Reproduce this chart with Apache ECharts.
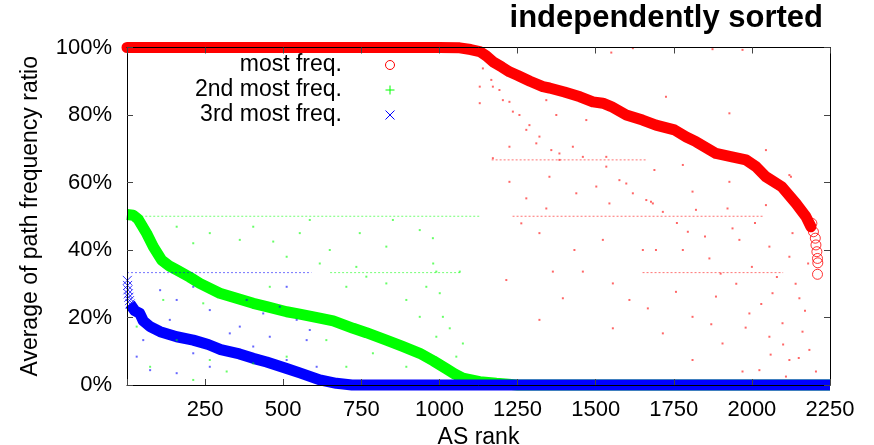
<!DOCTYPE html>
<html>
<head>
<meta charset="utf-8">
<script src="https://cdn.jsdelivr.net/npm/echarts@6/dist/echarts.min.js"></script>
<style>
  html, body { margin: 0; padding: 0; background: #fff; }
  #chart { width: 874px; height: 445px; }
</style>
</head>
<body>
<div id="chart"></div>
<script>
// AS rank (x) vs. average path frequency ratio in percent (y)

// Sorted curves
const redSorted = [[0,100],[1000,100],[1065,99.9],[1100,99.4],[1129,98.8],[1150,97.5],[1171,95.8],[1200,94.2],[1224,92.8],[1251,91.7],[1290,90.0],[1331,88.4],[1352,88.0],[1400,86.8],[1450,85.4],[1491,83.9],[1523,83.5],[1550,82.5],[1598,80.0],[1650,78.5],[1693,77.0],[1752,75.6],[1790,73.5],[1821,72.1],[1885,68.6],[1940,67.5],[1981,66.7],[2013,64.7],[2045,61.7],[2095,58.8],[2141,53.8],[2173,49.9],[2189,46.9]];
const redTail = [[2192,47.9],[2197,45.4],[2203,43.5],[2205,41.5],[2208,39.5],[2210,37.5],[2211,36.2],[2210,32.8]];

const greenSorted = [[0,50.5],[20,50.3],[35,49.2],[47,47.4],[63,44.9],[84,41.0],[111,37.0],[135,35.3],[159,34.1],[200,32.0],[233,30.1],[297,27.2],[340,26.0],[404,24.2],[447,23.2],[511,21.7],[553,21.0],[617,19.8],[660,19.0],[724,16.8],[766,15.5],[830,13.3],[880,11.5],[937,9.4],[980,7.2],[1022,4.8],[1050,3.2],[1075,2.0],[1129,1.0],[1182,0.5],[1250,0],[2250,0]];

const blueSorted = [[10,24.0],[25,22.0],[41,21.2],[52,19.0],[74,17.3],[106,15.8],[159,14.3],[212,13.3],[260,12.0],[300,10.5],[360,9.2],[404,7.9],[447,6.8],[511,4.9],[553,3.6],[617,1.5],[670,0.5],[720,0],[2250,0]];
const blueHead = [[1,31.0],[2,29.5],[3,28.2],[4,27.0],[6,26.0],[8,25.0],[10,24.0]];

// Unsorted per-AS values
const redScatter = [[1139,93.8],[1166,90.4],[1192,87.4],[1224,83.9],[1256,80.0],[1288,77.0],[1320,73.6],[1358,69.6],[1384,66.7],[1427,70.6],[1459,67.6],[1534,64.7],[1576,60.7],[1619,56.8],[1662,54.8],[1171,88.4],[1203,84.4],[1235,81.0],[1278,75.6],[1310,71.6],[1129,83.5],[1224,70.6],[1171,67.2],[1224,60.2],[1352,61.7],[1384,68.6],[1438,56.8],[1502,58.8],[1544,53.8],[1598,59.7],[1683,53.8],[1342,52.3],[1278,55.3],[1534,67.6],[1470,78.5],[1342,84.4],[1374,80.0],[1129,88.4],
  [1550,98.5],[1619,99.8],[1970,99.3],[1874,99.5],[1725,85.4],[1928,80.5],[2045,69.6],[2125,61.7],
  [1779,65.2],[1688,63.7],[1677,54.3],[1715,51.3],[1810,57.3],[1928,60.2],[1821,51.9],[1922,52.3],[2120,62.2],[2045,53.3],[1795,45.4],[1938,46.4],[1693,40.0],[1779,40.0],[1864,37.5],[1960,43.0],[2056,41.0],[2120,38.0],[1757,27.6],[1885,26.2],[2066,27.2],[2152,25.7],[1810,20.2],[1992,21.2],[2098,18.3],[2162,15.8],[2056,14.3],[1906,12.3],[2184,10.4],[2120,7.4],[1810,7.4],[2024,4.4],[2205,4.0],[1715,15.3],
  [1214,31.1],[1320,19.3],[1395,25.7],[1363,33.6],[1459,33.6],[1555,30.1],[1555,16.8],[1608,25.2],[1667,22.7],[1970,4.0],[2109,2.5],[1432,40.0],[1523,43.0],[1651,40.0],[1320,45.0],[1262,47.9],
  [1950,30.0],[2000,35.0],[2080,32.0],[2140,30.0],[2170,22.0],[2030,24.0],[1980,17.0],[2100,12.0],[2150,8.0],[2060,9.0],[1870,18.0],[1900,33.0],[2180,36.0],[2130,45.0],[2010,48.0],[1850,44.0],[1760,48.0]];
const redLevels = [[[1234,50],[2040,50]],[[1167,66.7],[1662,66.7]],[[1650,33.3],[2100,33.3]]];

const greenScatter = [[404,46.9],[468,42.5],[553,45],[649,40],[745,45],[830,41],[937,45.9],[980,36],[734,35],[830,30.1],[894,25.2],[937,20.2],[1001,27.2],[361,43],[511,38],[617,36],[702,29.1],[766,32.1],[457,29.1],[638,13.3],[787,9.4],[894,5.4],[511,8.4],[404,6.4],[319,4],[702,5.4],[585,48.9],[851,48.9],[958,29.1],[1011,20.2],[74,45],[159,46.9],[212,42],[265,45],[116,25.2],[244,24.2],[159,13.3],[74,5.4],[265,7.4],[31,17.3],[212,1.5],[1075,12.3],[1033,16.8],[990,33.6],[1065,33.6],[979,43.5],[990,14.3],[1054,8.4]];
const greenLevels = [[[20,50],[1130,50]],[[650,33.3],[1070,33.3]]];

const blueScatter = [[106,28.1],[159,25.2],[212,29.1],[265,22.2],[137,19.3],[52,13.3],[31,8.4],[74,4.4],[159,3.5],[265,5.4],[212,9.4],[383,25.2],[436,21.2],[511,29.1],[543,19.3],[361,17.3],[457,14.3],[575,13.3],[511,7.4],[607,5.4],[329,15.3],[404,11.4],[585,16.3],[489,23.2]];
const blueLevels = [[[0,33.3],[590,33.3]]];

const legendNames = ['most freq.', '2nd most freq.', '3rd most freq.'];
const xTicks = { min: 0, max: 2250, step: 250 };
const yTicks = { min: 0, max: 100, step: 20 };

const FONT = '"Liberation Sans", Arial, Helvetica, sans-serif';
const RED = '#ff0000', GREEN = '#00ff00', BLUE = '#0000ff';
const CROSS = 'path://M0,0L10,10M10,0L0,10';

// Frame axes sit on their own layer so the border stays visible over the thick curves
function axisBase(extra) {
  return Object.assign({
    type: 'value', zlevel: 1, z: 10,
    axisLine: { show: true, onZero: false, lineStyle: { color: '#000', width: 1 } },
    axisTick: { show: true, inside: true, length: 6, lineStyle: { color: '#444', width: 1 } },
    splitLine: { show: false }
  }, extra);
}

function band(name, data, color, cap) {
  return {
    name, type: 'line', data, showSymbol: false, symbol: 'none', clip: false, z: 2,
    lineStyle: { color, width: 11, cap, join: 'round' }, silent: true
  };
}
function level(name, data, color) {
  return {
    name, type: 'line', data, showSymbol: false, symbol: 'none', z: 3,
    lineStyle: { color, width: 1, type: [2, 2], opacity: 0.55 }, silent: true
  };
}
function dots(name, data, color) {
  return {
    name, type: 'scatter', data, symbol: 'rect', symbolSize: 2, z: 4,
    itemStyle: { color, opacity: 0.6 }, silent: true
  };
}

const series = [
  band(legendNames[0], redSorted, RED, 'round'),
  { name: legendNames[0], type: 'scatter', data: redTail, symbol: 'circle', symbolSize: 10, z: 2, clip: false,
    itemStyle: { color: 'rgba(255,255,255,0)', borderColor: RED, borderWidth: 1 }, silent: true },
  band(legendNames[1], greenSorted, GREEN, 'butt'),
  band(legendNames[2], blueSorted, BLUE, 'butt'),
  { name: legendNames[2], type: 'scatter', data: blueHead, symbol: CROSS, symbolSize: 9, z: 2, clip: false,
    itemStyle: { color: 'none', borderColor: BLUE, borderWidth: 1 }, silent: true }
];
redLevels.forEach(d => series.push(level(legendNames[0], d, RED)));
greenLevels.forEach(d => series.push(level(legendNames[1], d, GREEN)));
blueLevels.forEach(d => series.push(level(legendNames[2], d, BLUE)));
series.push(dots(legendNames[0], redScatter, RED));
series.push(dots(legendNames[1], greenScatter, GREEN));
series.push(dots(legendNames[2], blueScatter, BLUE));

// Legend block: labels right-aligned, key glyph to their right
const legendX = 342, keyX = 390, legendY = [65, 90, 115];
const legendGraphics = [];
legendNames.forEach((n, i) => {
  legendGraphics.push({ type: 'text', x: legendX, y: legendY[i], z: 20,
    style: { text: n, align: 'right', verticalAlign: 'middle', fontSize: 23, fontFamily: FONT, fill: '#000' } });
});
legendGraphics.push({ type: 'circle', z: 20, shape: { cx: keyX, cy: legendY[0], r: 4.5 }, style: { fill: 'none', stroke: RED, lineWidth: 1 } });
legendGraphics.push({ type: 'line', z: 20, shape: { x1: keyX - 4.5, y1: legendY[1], x2: keyX + 4.5, y2: legendY[1] }, style: { stroke: GREEN, lineWidth: 1 } });
legendGraphics.push({ type: 'line', z: 20, shape: { x1: keyX, y1: legendY[1] - 4.5, x2: keyX, y2: legendY[1] + 4.5 }, style: { stroke: GREEN, lineWidth: 1 } });
legendGraphics.push({ type: 'line', z: 20, shape: { x1: keyX - 4.5, y1: legendY[2] - 4.5, x2: keyX + 4.5, y2: legendY[2] + 4.5 }, style: { stroke: BLUE, lineWidth: 1 } });
legendGraphics.push({ type: 'line', z: 20, shape: { x1: keyX - 4.5, y1: legendY[2] + 4.5, x2: keyX + 4.5, y2: legendY[2] - 4.5 }, style: { stroke: BLUE, lineWidth: 1 } });

const chart = echarts.init(document.getElementById('chart'), null, { renderer: 'canvas' });
chart.setOption({
  animation: false,
  backgroundColor: '#fff',
  title: {
    text: 'independently sorted', right: 46, top: -2,
    textStyle: { fontFamily: FONT, fontSize: 31, fontWeight: 'bold', color: '#000' }
  },
  grid: { left: 127, right: 44, top: 47.5, bottom: 60, containLabel: false, outerBoundsMode: 'none' },
  xAxis: [
    axisBase({
      position: 'bottom', min: xTicks.min, max: xTicks.max, interval: xTicks.step,
      axisLabel: { margin: 14, fontSize: 22, fontFamily: FONT, color: '#000',
        formatter: v => (v === 0 ? '' : String(v)) },
      name: 'AS rank', nameLocation: 'middle', nameGap: 36,
      nameTextStyle: { fontSize: 23, fontFamily: FONT, color: '#000' }
    }),
    axisBase({
      position: 'top', min: xTicks.min, max: xTicks.max, interval: xTicks.step,
      axisLabel: { show: false }
    })
  ],
  yAxis: [
    axisBase({
      position: 'left', min: yTicks.min, max: yTicks.max, interval: yTicks.step,
      axisLabel: { margin: 15, fontSize: 22, fontFamily: FONT, color: '#000', formatter: '{value}%' },
      name: 'Average of path frequency ratio', nameLocation: 'middle', nameGap: 85,
      nameTextStyle: { fontSize: 23, fontFamily: FONT, color: '#000' }
    }),
    axisBase({
      position: 'right', min: yTicks.min, max: yTicks.max, interval: yTicks.step,
      axisLabel: { show: false }
    })
  ],
  graphic: legendGraphics,
  series
});
</script>
</body>
</html>
